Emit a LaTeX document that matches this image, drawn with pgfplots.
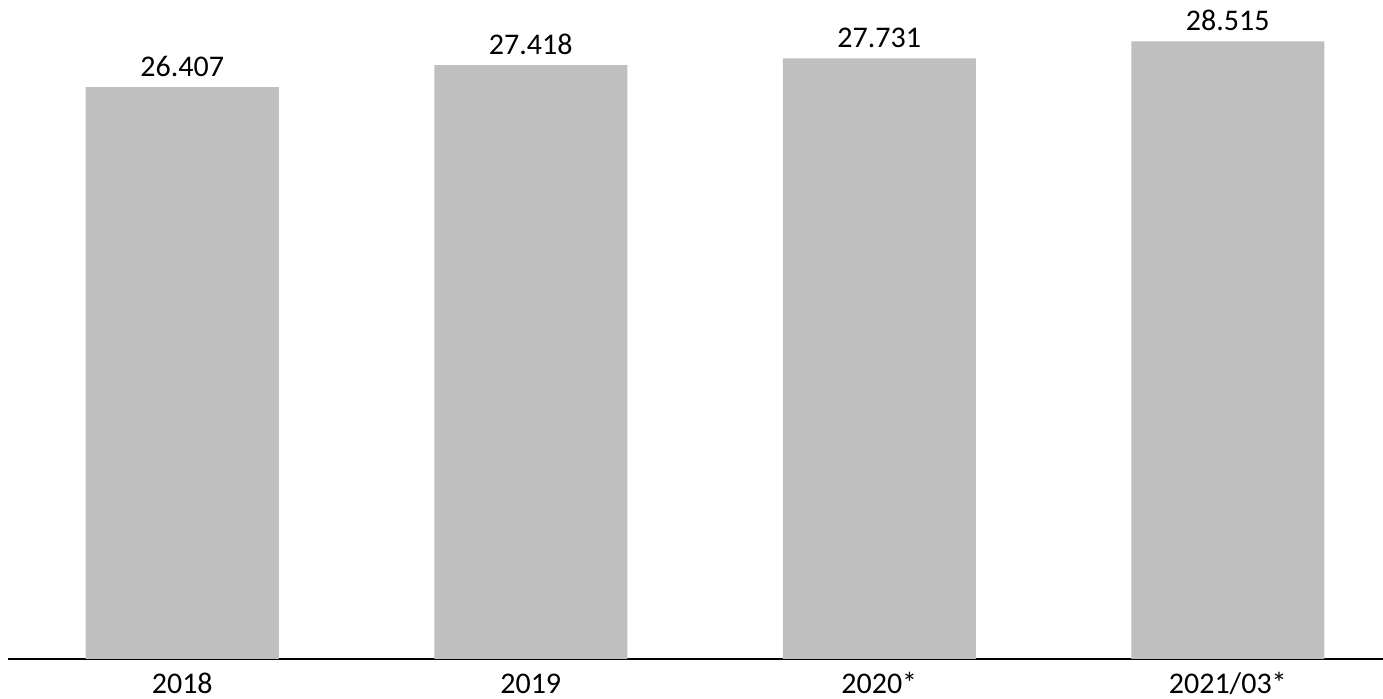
\documentclass[border=0pt]{standalone}
\usepackage{fontspec}
\setmainfont{Carlito}
\usepackage{pgfplots}
\pgfplotsset{compat=1.18}
\definecolor{barcol}{HTML}{BFBFBF}
\begin{document}
\begin{tikzpicture}
\useasboundingbox (-4pt,-20pt) rectangle (687.5pt,329.5pt);
\begin{axis}[
  at={(0,0)}, anchor=south west,
  scale only axis, width=687.5pt, height=329.5pt,
  xmin=-0.5, xmax=3.4455, ymin=0, ymax=30.425,
  clip=false,
  axis x line*=bottom, axis y line=none,
  x axis line style={black, line width=0.75pt, -},
  xtick={0,1,2,3},
  xticklabels={2018,2019,2020*,2021/03*},
  major tick length=0pt,
  xticklabel style={font=\fontsize{15}{18}\selectfont, anchor=base, inner sep=0pt, yshift=-17.5pt, text=black},
  ybar, bar width=96.5pt,
  nodes near coords,
  point meta=explicit symbolic,
  every node near coord/.append style={font=\fontsize{15}{18}\selectfont, text=black, anchor=base, inner sep=0pt, yshift=5.5pt},
]
\addplot[fill=barcol, draw=none] table[x=x, y=y, meta=lab] {
x y lab
0 26.407 26.407
1 27.418 27.418
2 27.731 27.731
3 28.515 28.515
};
\end{axis}
\end{tikzpicture}
\end{document}
